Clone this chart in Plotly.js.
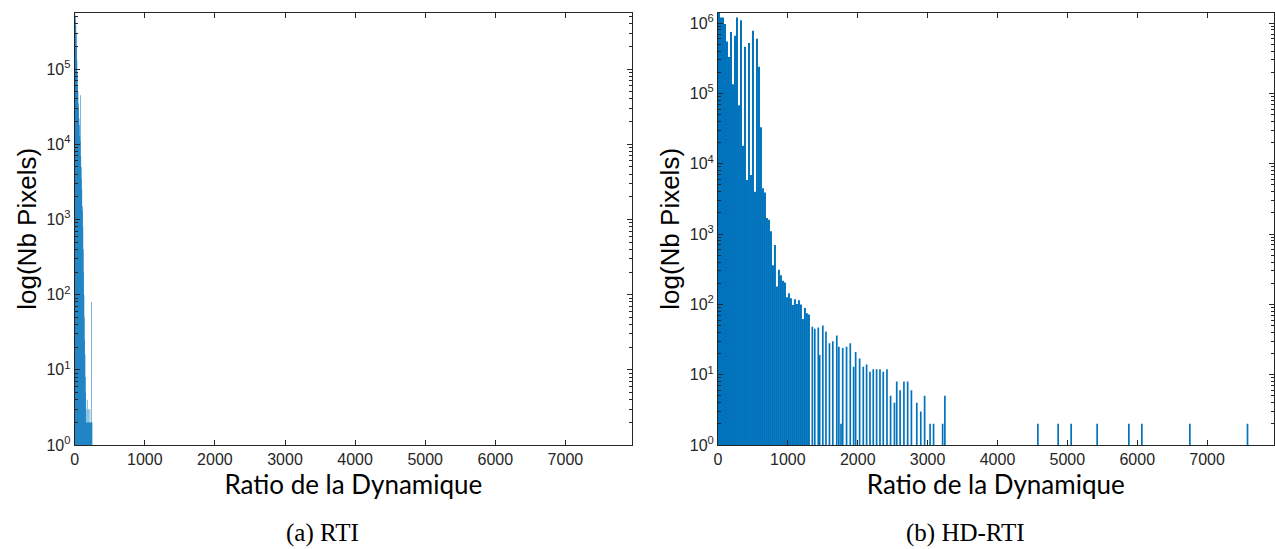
<!DOCTYPE html>
<html>
<head>
<meta charset="utf-8">
<script src="https://cdn.plot.ly/plotly-3.0.1.min.js"></script>
<style>html,body{margin:0;padding:0;background:#fff;}#chart{width:1275px;height:549px;}</style>
</head>
<body>
<div id="chart"></div>
<script>
// ---------- data ----------
const xTickVals = [0, 1000, 2000, 3000, 4000, 5000, 6000, 7000];
const xTickText = ['0', '1000', '2000', '3000', '4000', '5000', '6000', '7000'];

// (a) RTI : fine histogram, bin width 5
const rtiBinWidth = 5;
const rtiCounts = [560000, 500000, 450000, 380000, 300000, 200000, 130000, 90000, 60000, 50000,
  35000, 30000, 22000, 18000, 13000, 11000, 45000, 7000, 5000, 3500,
  2500, 1500, 1300, 800, 400, 200, 100, 50, 25, 16,
  8, 5, 3, 2, 2, 4, 2, 2, 3, 2,
  2, 2, 2, 3, 2, 2, 2, 2, 80, 2];

// (b) HD-RTI : main bins (width 28.6) then isolated tail bins
const hdBinWidth = 28.6;
const hdMainCounts = [1.4e6, 1.2e6, 1.2e6, 9.7e5, 5.5e5, 3.3e5, 7.5e5, 1.35e5, 6.6e5, 1.2e6,
  6.8e4, 1.1e6, 1.8e4, 4.6e5, 5.9e3, 5.2e5, 6.9e3, 7.8e5, 4.0e3, 6.0e5,
  2.4e5, 3.3e4, 4.5e3, 3.9e3, 1.7e3, 1.6e3, 1.1e3, 360, 700, 180,
  310, 260, 217, 205, 126, 144, 122, 98, 118, 101,
  115, 100, 62, 89, 75, 72];
const hdTailX = [1350, 1385, 1435, 1455, 1500, 1545, 1595, 1643, 1700, 1730,
  1760, 1785, 1840, 1893, 1941, 1970, 2027, 2079, 2127, 2175,
  2222, 2270, 2318, 2365, 2418, 2470, 2525, 2558, 2606, 2661,
  2714, 2768, 2845, 2902, 2957, 3035, 3085, 3215, 3247,
  4578, 4868, 5054, 5426, 5880, 6066, 6753, 7578];
const hdTailCounts = [48, 45, 47, 19, 50, 41, 28, 30, 36, 25,
  2, 24, 25, 28, 13, 21, 17, 13, 14, 11,
  12, 12, 12, 11, 12, 5, 4, 8, 6, 8,
  8, 6, 4, 3, 5, 2, 2, 2, 5,
  2, 2, 2, 2, 2, 2, 2, 2];

const captions = ['(a) RTI', '(b) HD-RTI'];
const xTitle = 'Ratio de la Dynamique';
const yTitle = 'log(Nb Pixels)';

// ---------- build ----------
const rtiX = rtiCounts.map((_, i) => (i + 0.5) * rtiBinWidth);
const hdMainX = hdMainCounts.map((_, i) => (i + 0.5) * hdBinWidth);

function decadeTicks(maxExp) {
  const vals = [], txt = [], minor = [];
  for (let e = 0; e <= maxExp; e++) {
    vals.push(Math.pow(10, e));
    txt.push('10<sup>' + e + '</sup>');
    for (let d = 2; d <= 9; d++) minor.push(d * Math.pow(10, e));
  }
  return {vals, txt, minor};
}
const tL = decadeTicks(5), tR = decadeTicks(6);

const axisColor = '#262626';
const tickFont = {family: 'Liberation Sans, Arial, sans-serif', size: 16, color: axisColor};
const barColor = 'rgba(0,114,189,0.995)';

function xAxis(domain, yref) {
  return {
    domain: domain, range: [0, 7950], anchor: yref,
    tickmode: 'array', tickvals: xTickVals, ticktext: xTickText,
    ticks: 'inside', ticklen: 5, tickwidth: 1, tickcolor: axisColor,
    showline: true, linecolor: axisColor, linewidth: 1, mirror: 'ticks',
    showgrid: false, zeroline: false, tickfont: tickFont,
    title: {text: xTitle, font: {family: 'Lato, sans-serif', size: 26, color: '#000'}, standoff: 3}
  };
}
function yAxis(t, top, xref) {
  return {
    domain: [0.1894, 0.9769], type: 'log', range: [0, top], anchor: xref,
    tickmode: 'array', tickvals: t.vals, ticktext: t.txt,
    ticks: 'inside', ticklen: 5, tickwidth: 1, tickcolor: axisColor,
    minor: {tickmode: 'array', tickvals: t.minor, ticks: 'inside', ticklen: 3, tickcolor: axisColor, showgrid: false},
    showline: true, linecolor: axisColor, linewidth: 1, mirror: 'ticks',
    showgrid: false, zeroline: false, tickfont: tickFont,
    title: {text: yTitle, font: {family: 'Liberation Sans, Arial, sans-serif', size: 26, color: '#000'}, standoff: 2}
  };
}

const traces = [
  {type: 'bar', x: rtiX, y: rtiCounts, width: rtiBinWidth * 1.5, xaxis: 'x', yaxis: 'y',
   marker: {color: barColor, line: {width: 0}}, hoverinfo: 'skip'},
  {type: 'bar', x: hdMainX, y: hdMainCounts, width: hdBinWidth, xaxis: 'x2', yaxis: 'y2',
   marker: {color: barColor, line: {width: 0}}, hoverinfo: 'skip'},
  {type: 'bar', x: hdTailX, y: hdTailCounts, width: hdBinWidth * 0.85, xaxis: 'x2', yaxis: 'y2',
   marker: {color: barColor, line: {width: 0}}, hoverinfo: 'skip'}
];

const layout = {
  width: 1275, height: 549,
  margin: {l: 0, r: 0, t: 0, b: 0},
  paper_bgcolor: '#fff', plot_bgcolor: '#fff',
  showlegend: false, barmode: 'overlay',
  xaxis: xAxis([74.7 / 1275, 632 / 1275], 'y'),
  yaxis: yAxis(tL, 5.75, 'x'),
  xaxis2: xAxis([718 / 1275, 1273.5 / 1275], 'y2'),
  yaxis2: yAxis(tR, 6.149, 'x2'),
  annotations: [
    {text: captions[0], xref: 'paper', yref: 'paper', x: 322 / 1275, y: (549 - 533) / 549,
     xanchor: 'center', yanchor: 'middle', showarrow: false,
     font: {family: 'Liberation Serif, serif', size: 25, color: '#000'}},
    {text: captions[1], xref: 'paper', yref: 'paper', x: 965 / 1275, y: (549 - 533) / 549,
     xanchor: 'center', yanchor: 'middle', showarrow: false,
     font: {family: 'Liberation Serif, serif', size: 25, color: '#000'}}
  ]
};

Plotly.newPlot('chart', traces, layout, {staticPlot: true, displayModeBar: false});
</script>
</body>
</html>
